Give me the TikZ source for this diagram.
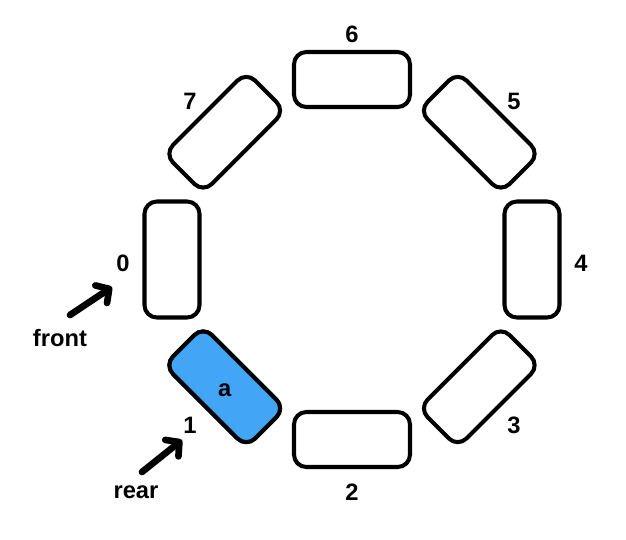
\documentclass[tikz,border=0pt]{standalone}
\usepackage{fontspec}
\setmainfont{Liberation Sans}
\usetikzlibrary{arrows.meta, positioning}

\definecolor{slotblue}{RGB}{66,165,245}

\tikzset{
	slot/.style={draw, line width=2.3pt, rounded corners=7pt,
		minimum width=2.32cm, minimum height=1.1cm, inner sep=0pt},
	idx/.style={font=\fontsize{13.5}{15}\selectfont\bfseries, inner sep=0pt},
	pointer/.style={line width=3.8pt, line cap=round,
		-{Straight Barb[length=5.5pt, width=12pt, round]}}
}

\begin{document}
\begin{tikzpicture}[x=0.02cm, y=0.02cm]
				\useasboundingbox (-352,-279.5) rectangle (274,259.5);
				
				% --- Ringpuffer: 8 Felder ---
				\foreach \i in {0,...,7}{
					\pgfmathsetmacro{\a}{180+45*\i}
					\node[slot, rotate=\a+90] (c\i) at (\a:180) {};
					\node[idx] (n\i) at ([yshift=-4*0.02cm]\a:229) {\i};
				}
				
				% --- belegtes Feld ---
				\node[slot, fill=slotblue, rotate=315] at (c1) {};
				\node[idx] (val) at ([yshift=-3*0.02cm]c1) {a};
				
				% --- Zeiger ---
				\node[idx] (front) at (-292,-78.5) {front};
				\node[idx] (rear) at (-216,-232.5) {rear};
				\coordinate (fs) at (-282,-55.5);
				\coordinate (fe) at (-240,-27.5);
				\coordinate (rs) at (-210,-212.5);
				\coordinate (re) at (-170,-180.5);
				\draw[pointer] (fs) -- (fe);
				\draw[pointer] (rs) -- (re);
				
			\end{tikzpicture}
\end{document}
